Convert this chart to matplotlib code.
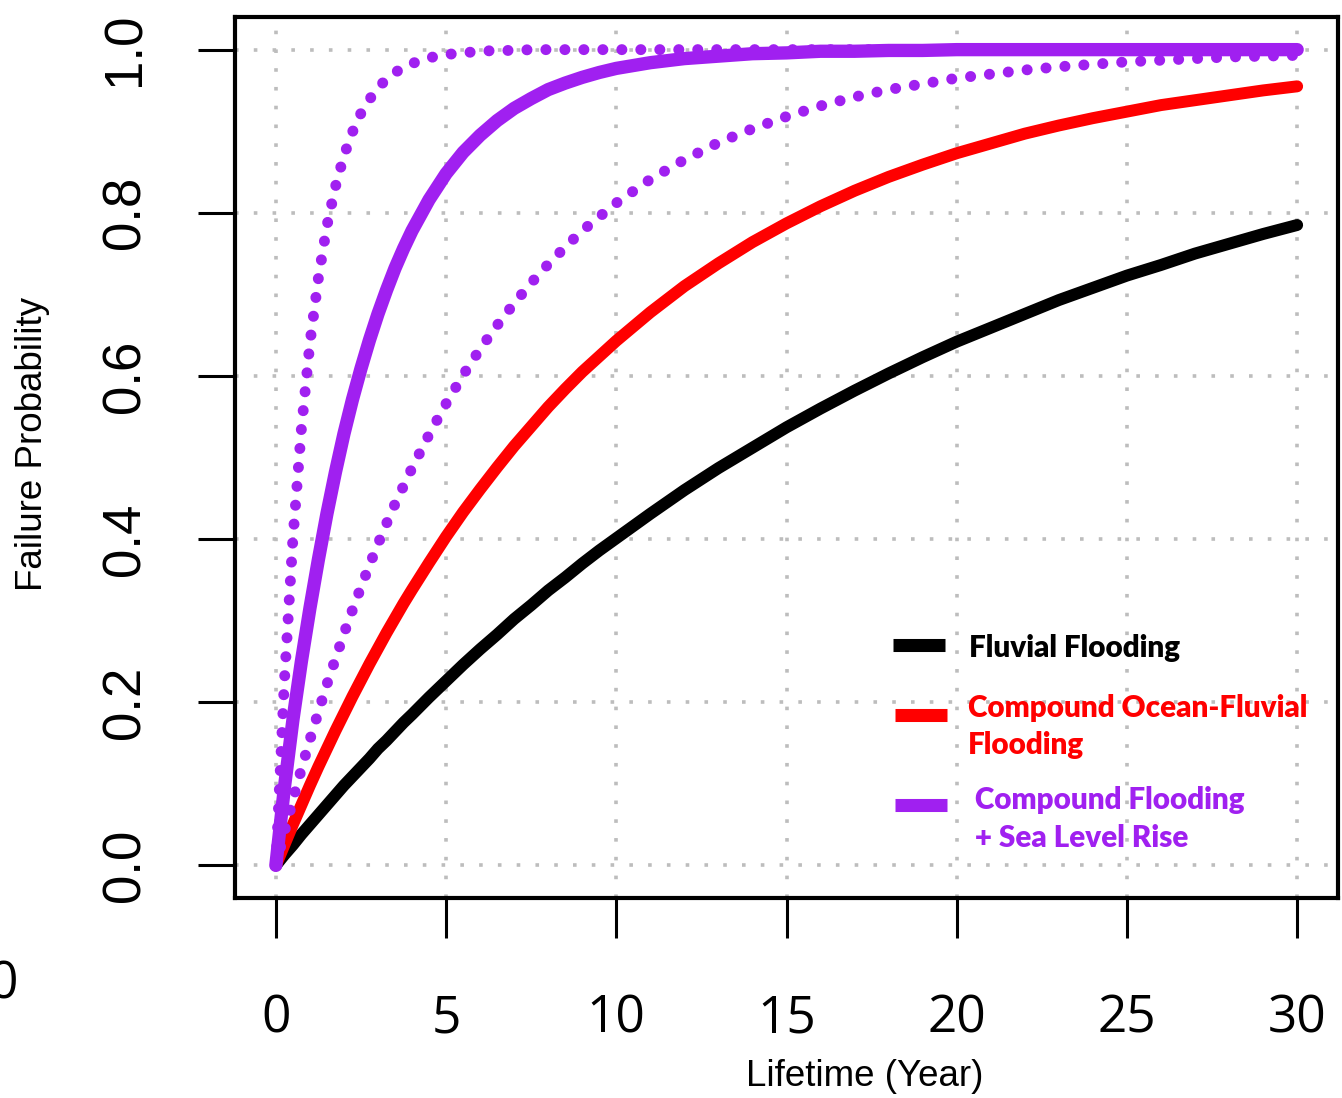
import matplotlib
matplotlib.use("Agg")
import matplotlib.pyplot as plt
from matplotlib.lines import Line2D

# Design lifetime (years) and the failure probability read for each scenario
years = [0, 0.25, 0.5, 0.75, 1, 1.25, 1.5, 1.75, 2, 2.25, 2.5, 2.75, 3, 3.25, 3.5,
         3.75, 4, 4.5, 5, 5.5, 6, 6.5, 7, 7.5, 8, 8.5, 9, 9.5, 10,
         11, 12, 13, 14, 15, 16, 17, 18, 19, 20,
         21, 22, 23, 24, 25, 26, 27, 28, 29, 30]

fluvial = [0, 0.013, 0.025, 0.038, 0.05, 0.062, 0.074, 0.086, 0.098, 0.109, 0.12,
           0.131, 0.143, 0.153, 0.164, 0.175, 0.185, 0.206, 0.226, 0.246, 0.265,
           0.283, 0.302, 0.319, 0.337, 0.353, 0.37, 0.386, 0.401,
           0.431, 0.46, 0.487, 0.512, 0.537, 0.56, 0.582, 0.603, 0.623, 0.642,
           0.659, 0.676, 0.693, 0.708, 0.723, 0.736, 0.75, 0.762, 0.774, 0.785]

compound = [0, 0.025, 0.05, 0.074, 0.098, 0.121, 0.143, 0.165, 0.186, 0.207, 0.227,
            0.247, 0.266, 0.285, 0.303, 0.321, 0.338, 0.371, 0.403, 0.433, 0.461,
            0.488, 0.514, 0.538, 0.562, 0.584, 0.605, 0.624, 0.643,
            0.678, 0.71, 0.738, 0.764, 0.787, 0.808, 0.827, 0.844, 0.859, 0.873,
            0.885, 0.897, 0.907, 0.916, 0.924, 0.932, 0.938, 0.944, 0.95, 0.955]

slr_central = [0, 0.095, 0.178, 0.25, 0.315, 0.375, 0.431, 0.482, 0.529, 0.571, 0.609,
               0.644, 0.676, 0.705, 0.732, 0.756, 0.778, 0.816, 0.848, 0.874, 0.895,
               0.913, 0.928, 0.94, 0.951, 0.959, 0.966, 0.972, 0.977,
               0.984, 0.989, 0.992, 0.995, 0.996, 0.998, 0.998, 0.999, 0.999, 1.0,
               1.0, 1.0, 1.0, 1.0, 1.0, 1.0, 1.0, 1.0, 1.0, 1.0]

slr_upper = [0, 0.225, 0.4, 0.535, 0.64, 0.72, 0.784, 0.832, 0.87, 0.899, 0.922,
             0.939, 0.953, 0.964, 0.972, 0.978, 0.983, 0.99, 0.994, 0.996, 0.998,
             0.999, 0.999, 1.0, 1.0, 1.0, 1.0, 1.0, 1.0,
             1.0, 1.0, 1.0, 1.0, 1.0, 1.0, 1.0, 1.0, 1.0, 1.0,
             1.0, 1.0, 1.0, 1.0, 1.0, 1.0, 1.0, 1.0, 1.0, 1.0]

slr_lower = [0, 0.041, 0.08, 0.118, 0.154, 0.188, 0.222, 0.253, 0.284, 0.313, 0.341,
             0.368, 0.394, 0.419, 0.443, 0.465, 0.487, 0.528, 0.566, 0.601, 0.633,
             0.662, 0.689, 0.714, 0.737, 0.758, 0.778, 0.795, 0.812,
             0.841, 0.865, 0.886, 0.903, 0.918, 0.931, 0.942, 0.951, 0.958, 0.965,
             0.97, 0.975, 0.979, 0.982, 0.985, 0.987, 0.989, 0.991, 0.992, 0.993]

x_ticks = [0, 5, 10, 15, 20, 25, 30]
y_ticks = [0.0, 0.2, 0.4, 0.6, 0.8, 1.0]
y_tick_labels = ["0.0", "0.2", "0.4", "0.6", "0.8", "1.0"]

legend_entries = [
    ("black", ["Fluvial Flooding"]),
    ("#ff0000", ["Compound Ocean-Fluvial", "Flooding"]),
    ("#a020f0", [" Compound Flooding", " + Sea Level Rise"]),
]

PURPLE = "#a020f0"
RED = "#ff0000"
NARROW = ["Liberation Sans Narrow", "Liberation Sans", "DejaVu Sans"]

W, H = 1342, 1098
fig = plt.figure(figsize=(W / 100, H / 100), dpi=100)
fig.patch.set_facecolor("white")


def fx(px):
    return px / W


def fy(py):
    return 1 - py / H


ax = fig.add_axes([fx(235), fy(898), (1338 - 235) / W, (898 - 17) / H])
ax.set_xlim(-1.2, 31.2)
ax.set_ylim(-0.04, 1.04)

# dotted light-grey grid behind the curves
ax.set_axisbelow(True)
ax.grid(True, color="#bdbdbd", linewidth=2.6, linestyle=(0, (1, 4.2)),
        dash_capstyle="butt")

dots = (0, (0.01, 1.72))
ax.plot(years, fluvial, color="black", lw=8.6, solid_capstyle="round",
        solid_joinstyle="round", zorder=3)
ax.plot(years, compound, color=RED, lw=8.6, solid_capstyle="round",
        solid_joinstyle="round", zorder=3)
ax.plot(years, slr_central, color=PURPLE, lw=9.6, solid_capstyle="round",
        solid_joinstyle="round", zorder=4)
ax.plot(years, slr_lower, color=PURPLE, lw=7.9, linestyle=dots,
        dash_capstyle="round", zorder=5)
ax.plot(years, slr_upper, color=PURPLE, lw=7.9, linestyle=dots,
        dash_capstyle="round", zorder=5)

for s in ax.spines.values():
    s.set_linewidth(3)

ax.set_xticks(x_ticks)
ax.set_xticklabels([str(v) for v in x_ticks], fontfamily="Open Sans", fontsize=37)
ax.tick_params(axis="x", length=29, width=2.2, pad=40)

ax.set_yticks(y_ticks)
ax.set_yticklabels(y_tick_labels, fontfamily=NARROW, fontsize=38,
                   rotation=90, va="center", ha="right")
ax.tick_params(axis="y", length=27, width=2.2, pad=34)

fig.text(fx(33), fy(444), "Failure Probability", rotation=90, ha="center",
         va="center", fontfamily=NARROW, fontsize=26.5)
fig.text(fx(865), fy(1076), "Lifetime (Year)", ha="center", va="center",
         fontfamily=NARROW, fontsize=26.5)
fig.text(fx(3), fy(985), "0", ha="center", va="center",
         fontfamily="Open Sans", fontsize=37)

# legend keys and labels
key_y = [644.5, 714.5, 804.5]
key_x = [(893, 945), (895, 947), (895, 947)]
baselines = [[656.7], [717, 754], [809, 847]]
text_x = [969, 968, 968]
for (color, lines), ky, (x0, x1), bl, tx in zip(legend_entries, key_y, key_x,
                                                baselines, text_x):
    fig.add_artist(Line2D([fx(x0), fx(x1)], [fy(ky), fy(ky)], color=color,
                          lw=9.4, solid_capstyle="butt",
                          transform=fig.transFigure))
    for line, b in zip(lines, bl):
        fig.text(fx(tx), fy(b), line, ha="left", va="baseline", color=color,
                 fontfamily="Lato", fontweight="heavy", fontsize=21.3)

fig.savefig("out.png", dpi=100, facecolor="white")
